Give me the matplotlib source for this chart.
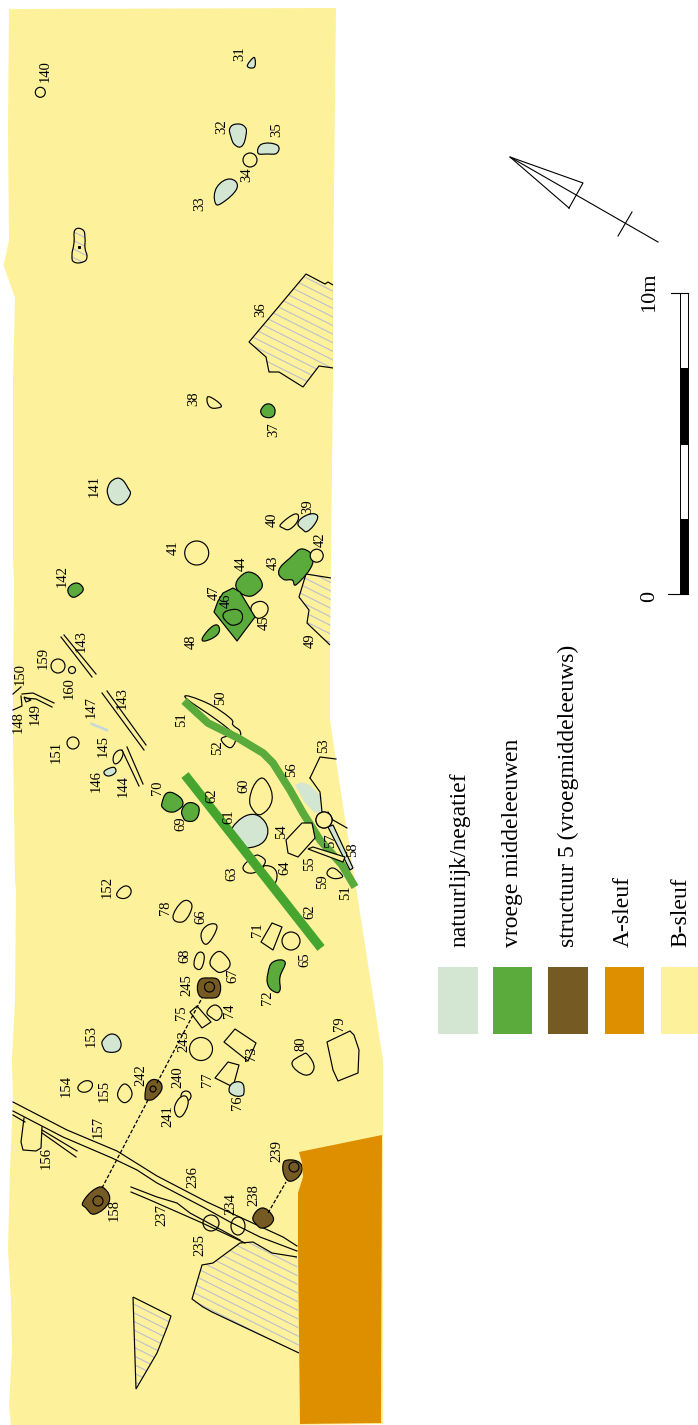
import numpy as np
import matplotlib
matplotlib.use("Agg")
import matplotlib.pyplot as plt
from matplotlib.path import Path
from matplotlib.patches import PathPatch, Polygon, Ellipse, Rectangle

plt.rcParams['font.family'] = ['Liberation Serif', 'DejaVu Serif']

# colours of the legend
C_NATURAL = '#D2E6D2'
C_MEDIEVAL = '#5AAB3C'
C_STRUCT = '#765A24'
C_ASLEUF = '#DE8F00'
C_BSLEUF = '#FDF29B'
C_HATCH = '#BCBED2'

legend_labels = ['natuurlijk/negatief', 'vroege middeleeuwen',
                 'structuur 5 (vroegmiddeleeuws)', 'A-sleuf', 'B-sleuf']
legend_colors = [C_NATURAL, C_MEDIEVAL, C_STRUCT, C_ASLEUF, C_BSLEUF]
legend_left = [438, 493, 548, 605, 661]
legend_right = [478, 532, 588, 644, 698]
legend_base = [465, 518, 574, 629, 686]

# trench outlines, in image pixels
b_sleuf = [(9, 9), (336, 8), (333, 285), (333, 380), (330, 647), (330, 720), (339, 780),
           (356, 887), (383, 1060), (383, 1135), (383, 1424), (300, 1425), (11, 1425),
           (9, 1405), (12, 1350), (11, 1300), (8, 1250), (10, 1170), (13, 1100), (12, 1060),
           (15, 1000), (16, 890), (15, 880), (13, 740), (13, 700), (14, 580), (13, 560),
           (13, 380), (15, 298), (3.5, 265), (7, 250), (9, 240), (8, 130)]
a_sleuf = [(299, 1152), (382, 1135), (381, 1423), (300, 1424), (298, 1247), (298, 1193),
           (303, 1177), (302, 1163)]

# pits, natural / negative
natural_pits = [
    [(248, 64), (253, 58), (255, 59), (255, 66), (252, 68), (248, 67)],
    [(230, 128), (237, 124), (245, 127), (246, 135), (242, 146), (235, 145), (231, 137)],
    [(262, 144), (277, 145), (277, 153), (267, 154), (258, 153)],
    [(217, 187), (230, 179), (237, 188), (222, 203), (215, 202)],
    [(108, 487), (113, 480), (121, 479), (128, 488), (130, 495), (122, 504), (113, 503), (108, 495)],
    [(298, 523), (305, 516), (315, 514), (317, 520), (308, 531), (302, 529)],
    [(103, 1040), (112, 1034), (120, 1040), (119, 1050), (108, 1052), (103, 1047)],
    [(229, 1090), (233, 1083), (242, 1083), (244, 1092), (241, 1096), (233, 1095)],
    [(104, 772), (110, 768), (115, 768), (115, 773), (108, 776)],
    [(230, 832), (248, 815), (265, 822), (265, 840), (247, 848), (238, 842)],
]
# pits, early medieval
medieval_pits = [
    [(262, 408), (267, 404), (273, 406), (275, 412), (272, 417), (265, 417), (261, 413)],
    [(279, 570), (290, 558), (303, 549), (313, 562), (297, 584), (292, 580), (283, 579)],
    [(236, 587), (242, 575), (253, 573), (262, 583), (258, 592), (247, 596)],
    [(203, 637), (213, 626), (219, 627), (217, 635), (205, 641)],
    [(68, 589), (76, 583), (83, 588), (80, 594), (72, 597)],
    [(162, 803), (167, 793), (177, 795), (183, 803), (178, 810), (170, 812), (163, 808)],
    [(182, 810), (188, 803), (197, 805), (199, 812), (195, 820), (187, 821), (183, 817)],
    [(268, 973), (273, 962), (285, 962), (280, 977), (280, 990), (275, 992), (268, 985)],
]
feature_47 = [(214, 612), (218, 601), (223, 593), (233, 588), (240, 592), (255, 617), (237, 641)]
feature_46 = [(223, 615), (230, 610), (240, 611), (242, 620), (235, 625), (228, 623)]

# structuur 5 posts: outline, then inner ring (x, y, r)
struct_pits = [
    [(199, 981), (209, 978), (219, 981), (219, 995), (209, 998), (199, 995)],
    [(145, 1097), (148, 1083), (157, 1080), (162, 1088), (155, 1098), (148, 1100)],
    [(83, 1202), (95, 1189), (105, 1189), (109, 1202), (95, 1214), (86, 1208)],
    [(283, 1165), (288, 1160), (300, 1163), (301, 1173), (292, 1181), (285, 1177)],
    [(253, 1217), (262, 1208), (272, 1215), (272, 1223), (263, 1228), (257, 1225)],
]
struct_rings = [(209.5, 987, 5), (153, 1089, 3), (98, 1201, 5), (294, 1167, 5)]
post_lines = [[(102, 1188), (148, 1100)], [(157, 1083), (202, 998)], [(268, 1213), (286, 1182)]]

# unfilled pits, B-sleuf colour shows through
plain_pits = [
    [(207, 400), (210, 397), (221, 405), (217, 408), (210, 407)],
    [(281, 524), (295, 514), (298, 520), (290, 529), (283, 528)],
    [(251, 608), (257, 602), (265, 603), (268, 610), (263, 617), (255, 617)],
    [(185, 697), (207, 703), (230, 718), (233, 725), (240, 731), (237, 735), (217, 720)],
    [(222, 738), (235, 737), (232, 747), (225, 745)],
    [(250, 797), (258, 780), (267, 782), (272, 800), (262, 814), (253, 810)],
    [(243, 868), (253, 857), (260, 856), (265, 863), (253, 873)],
    [(263, 868), (272, 867), (277, 875), (273, 883)],
    [(117, 893), (125, 886), (131, 890), (128, 897), (120, 898)],
    [(173, 917), (182, 902), (191, 903), (190, 913), (182, 922)],
    [(201, 935), (208, 925), (217, 927), (207, 944)],
    [(194, 963), (198, 953), (204, 955), (202, 967), (197, 969)],
    [(210, 962), (217, 952), (225, 955), (230, 965), (222, 972), (215, 970)],
    [(207, 1012), (215, 1005), (222, 1012), (218, 1020), (212, 1018)],
    [(292, 1064), (302, 1055), (308, 1055), (314, 1068), (305, 1075)],
    [(78, 1087), (85, 1081), (92, 1083), (90, 1090), (82, 1092)],
    [(118, 1092), (125, 1084), (132, 1093), (127, 1102), (120, 1100)],
    [(327, 873), (333, 868), (342, 875), (340, 878), (332, 878)],
    [(114, 755), (120, 750), (123, 754), (119, 762), (114, 763)],
]
# straighter sided ones, corners only lightly rounded
sharp_pits = [
    [(261, 942), (272, 923), (282, 927), (273, 950)],
    [(190, 1012), (197, 1006), (211, 1022), (202, 1028)],
    [(215, 1078), (228, 1062), (239, 1065), (233, 1087)],
    [(224, 1042), (235, 1029), (256, 1043), (248, 1061)],
    [(327, 1042), (350, 1031), (354, 1035), (359, 1050), (358, 1073), (338, 1081), (333, 1070)],
]
feature_54 = [(286, 840), (302, 823), (312, 823), (315, 838), (298, 857), (288, 853)]
feature_241 = [(176, 1103), (183, 1096), (188, 1100), (186, 1110), (180, 1117), (175, 1112)]
# round pits as x, y, radius
round_pits = [(40.3, 92.3, 5), (250, 160, 7), (316.7, 555.7, 6.5), (196.7, 553, 12),
              (58, 666, 7), (72, 670, 3.5), (73, 743, 6), (291, 941, 9), (201, 1049, 11.5),
              (186, 1096, 5), (324, 820, 8)]
# these two have the ditch lines running through them
open_pits = [(238, 1226, 7, 9), (211, 1223, 8, 8)]

# hatched features, right edges stop on the trench border
hatch_36 = [(306, 274), (325, 284), (328, 282), (333, 285), (333, 368), (319, 366), (303, 387),
            (279, 372), (269, 372), (266, 357), (249, 342)]
hatch_49 = [(306, 574), (331, 578), (330, 645), (307, 623), (309, 610), (299, 597)]
hatch_big = [(297, 1257), (272, 1253), (253, 1242), (240, 1243), (213, 1263), (202, 1265),
             (192, 1299), (203, 1307), (212, 1312), (299, 1353)]
hatch_tri = [(133, 1297), (171, 1316), (168, 1325), (157, 1353), (136, 1389)]
hatch_small = [(75, 230), (83, 230), (85, 238), (85, 248), (87, 257), (83, 262), (74, 262),
               (72, 255), (74, 243)]

# green ditches
ditch_51 = [(184, 701), (208, 723), (238, 738), (263, 753), (273, 763), (290, 790),
            (303, 813), (320, 840), (342, 865), (355, 887)]
ditch_62 = [(185, 775), (321, 948)]

# thin ditches, drawn as single lines
thin_lines = [
    [(61, 637), (92, 677)], [(64, 635), (96, 674)],
    [(102, 693), (144, 750)], [(107, 691), (146, 745)],
    [(122, 750), (139, 786)], [(127, 747), (143, 784)],
    [(13, 694), (21, 687)],
    [(22, 694), (33, 693), (54, 703)], [(25, 698), (36, 699), (52, 707)],
    [(21, 696), (22, 706), (13, 710)],
    [(310, 778), (320, 757), (336, 759)],
    [(310, 778), (320, 792), (322, 812)], [(328, 812), (333, 820), (347, 828)],
    [(13, 1102), (67, 1130), (117, 1151), (157, 1176), (207, 1202), (283, 1237), (297, 1246)],
    [(13, 1111), (63, 1137), (112, 1158), (137, 1170), (157, 1183), (203, 1207), (230, 1222),
     (260, 1237), (297, 1251)],
    [(42, 1130), (77, 1151)], [(42, 1133), (76, 1157)], [(13, 1115), (25, 1122)],
    [(131, 1187), (157, 1197), (177, 1203), (190, 1213), (203, 1220), (240, 1240)],
    [(131, 1192), (150, 1200), (200, 1222), (245, 1243)],
    [(24, 1118), (21, 1142), (23, 1150), (36, 1151), (41, 1148), (42, 1127)],
]
stripe_147 = [(90, 722), (91, 725), (108, 732), (108, 729)]
stripe_58 = [(328, 827), (333, 825), (353, 868), (350, 870)]
wedge_55 = [(308, 849), (313, 847), (345, 857), (343, 862)]
blue_56 = [(295, 785), (302, 782), (310, 785), (322, 797), (320, 805), (322, 812), (315, 813), (305, 803)]
triangle_149 = [(24, 697), (31, 700), (26, 702)]

# feature numbers
label_text = ['31', '140', '32', '35', '34', '33', '36', '38', '37', '141', '39', '40', '41', '42',
              '43', '44', '47', '46', '45', '48', '49', '142', '143', '159', '150', '160', '148',
              '149', '147', '143', '50', '51', '52', '53', '151', '145', '146', '144', '56', '70',
              '62', '60', '61', '69', '54', '57', '58', '55', '59', '51', '64', '63', '152', '78',
              '66', '62', '71', '65', '68', '245', '67', '72', '75', '74', '243', '73', '80', '79',
              '153', '242', '240', '77', '154', '155', '241', '76', '157', '156', '239', '236',
              '234', '238', '158', '237', '235']
label_x = [240, 45, 222, 277, 247, 200, 261, 194, 274, 94, 308, 272, 173, 320, 273, 241, 214, 226,
           264, 191, 310, 62, 81, 43, 20, 69, 18, 35, 91, 122, 221, 182, 218, 324, 56, 103, 96,
           123, 292, 158, 212, 244, 229, 181, 282, 331, 353, 310, 323, 346, 285, 232, 107, 166,
           201, 310, 257, 305, 185, 187, 233, 267, 182, 230, 184, 252, 301, 340, 91, 141, 178,
           208, 66, 104, 168, 237, 98, 46, 277, 193, 231, 254, 114, 162, 200]
label_y = [54, 71, 127, 130, 175, 204, 310, 399, 430, 486, 507, 520, 548, 540, 563, 564, 593, 601,
           623, 642, 641, 576, 641, 658, 674, 688, 722, 714, 707, 698, 698, 720, 748, 746, 752,
           746, 781, 786, 770, 788, 796, 786, 817, 824, 832, 841, 850, 864, 882, 893, 868, 874,
           887, 908, 917, 912, 930, 960, 956, 985, 976, 998, 1013, 1011, 1041, 1054, 1044, 1024,
           1036, 1075, 1077, 1080, 1086, 1091, 1116, 1103, 1127, 1158, 1151, 1177, 1204, 1195,
           1210, 1215, 1245]

# scale bar
scale_edges = [293, 368, 444, 519, 594]
scale_colors = ['white', 'black', 'white', 'black']


def smooth_path(pts):
    # closed bezier curve through the given points, a bit fuller than catmull-rom
    pts = np.array(pts, dtype=float)
    n = len(pts)
    verts = [pts[0]]
    codes = [Path.MOVETO]
    for i in range(n):
        p0, p1, p2, p3 = pts[i - 1], pts[i], pts[(i + 1) % n], pts[(i + 2) % n]
        verts += [p1 + (p2 - p0) / 4.5, p2 - (p3 - p1) / 4.5, p2]
        codes += [Path.CURVE4, Path.CURVE4, Path.CURVE4]
    return Path(verts, codes)


def draw_pit(ax, pts, fill, z=3, edge='black'):
    ax.add_patch(PathPatch(smooth_path(pts), facecolor=fill, edgecolor=edge, lw=0.85, zorder=z))


def draw_hatched(ax, pts, smooth=False, closed=True):
    if smooth:
        path = smooth_path(pts)
    else:
        path = Path(list(pts) + ([pts[0]] if closed else []))
    clip = PathPatch(path, facecolor='none', edgecolor='none', transform=ax.transData)
    ax.add_patch(clip)
    xs = [p[0] for p in pts]
    ys = [p[1] for p in pts]
    slope = 0.5
    for c in np.arange(min(ys) - slope * max(xs), max(ys) - slope * min(xs), 8.6):
        ln, = ax.plot([min(xs), max(xs)], [c + slope * min(xs), c + slope * max(xs)],
                      color=C_HATCH, lw=0.8, zorder=2)
        ln.set_clip_path(clip)
    ax.add_patch(PathPatch(path, facecolor='none', edgecolor='black', lw=0.85, zorder=3))


fig = plt.figure(figsize=(6.98, 14.25), dpi=100)
ax = fig.add_axes([0, 0, 1, 1])
ax.set_xlim(0, 698)
ax.set_ylim(1425, 0)
ax.axis('off')

ax.add_patch(Polygon(b_sleuf, closed=True, facecolor=C_BSLEUF, edgecolor='none', zorder=1))

# hatching first, the pits and ditches sit on it
draw_hatched(ax, hatch_36[4:] + hatch_36[:4], closed=False)
draw_hatched(ax, hatch_49[2:] + hatch_49[:2], closed=False)
draw_hatched(ax, hatch_big, closed=False)
draw_hatched(ax, hatch_tri)
draw_hatched(ax, hatch_small, smooth=True)
ax.plot([78.5], [247], marker='s', ms=1.2, color='black', zorder=4)

for line in thin_lines:
    xs, ys = zip(*line)
    ax.plot(xs, ys, color='black', lw=0.85, zorder=3)

for pit in plain_pits:
    draw_pit(ax, pit, C_BSLEUF)
for pit in sharp_pits:
    ax.add_patch(Polygon(pit, closed=True, facecolor=C_BSLEUF, edgecolor='black', lw=0.85, zorder=3,
                         joinstyle='round'))
for pit in natural_pits:
    draw_pit(ax, pit, C_NATURAL)
for pit in medieval_pits:
    draw_pit(ax, pit, C_MEDIEVAL)
for pit in struct_pits:
    draw_pit(ax, pit, C_STRUCT)
for x, y, r in round_pits:
    ax.add_patch(Ellipse((x, y), 2 * r, 2 * r, facecolor=C_BSLEUF, edgecolor='black', lw=0.85, zorder=3))
draw_pit(ax, feature_241, C_BSLEUF, z=3.1)
for x, y, rx, ry in open_pits:
    ax.add_patch(Ellipse((x, y), 2 * rx, 2 * ry, facecolor='none', edgecolor='black', lw=0.85, zorder=3))
for x, y, r in struct_rings:
    ax.add_patch(Ellipse((x, y), 2 * r, 2 * r, facecolor='none', edgecolor='black', lw=0.85, zorder=5))
for line in post_lines:
    xs, ys = zip(*line)
    ax.plot(xs, ys, color='black', lw=0.9, ls=(0, (3, 1.5)), zorder=4)

# feature 47 with 46 inside it
ax.add_patch(Polygon(feature_47, closed=True, facecolor=C_MEDIEVAL, edgecolor='black', lw=0.85, zorder=3,
                     joinstyle='round'))
draw_pit(ax, feature_46, 'none', z=4)

# green ditches
xs, ys = zip(*ditch_51)
ax.plot(xs, ys, color=C_MEDIEVAL, lw=5.6, solid_capstyle='butt', zorder=3.2)
xs, ys = zip(*ditch_62)
ax.plot(xs, ys, color='#45A52F', lw=6.6, solid_capstyle='butt', zorder=3.4)

ax.add_patch(Polygon(blue_56, closed=True, facecolor=C_NATURAL, edgecolor='none', zorder=2.8))
ax.add_patch(Polygon(stripe_147, closed=True, facecolor='#C5D8DA', edgecolor='none', zorder=3))
ax.add_patch(Polygon(stripe_58, closed=True, facecolor=C_NATURAL, edgecolor='black', lw=0.85, zorder=3.5))
ax.add_patch(Polygon(wedge_55, closed=True, facecolor=C_BSLEUF, edgecolor='black', lw=0.85, zorder=3.6))
ax.add_patch(Polygon(triangle_149, closed=True, facecolor=C_BSLEUF, edgecolor='black', lw=0.85, zorder=3))
ax.add_patch(Polygon(feature_54, closed=True, facecolor=C_BSLEUF, edgecolor='black', lw=0.85, zorder=3.7,
                     joinstyle='round'))
ax.add_patch(Ellipse((324, 820), 16, 16, facecolor=C_BSLEUF, edgecolor='black', lw=0.85, zorder=3.8))

ax.add_patch(Polygon(a_sleuf, closed=True, facecolor=C_ASLEUF, edgecolor='none', zorder=6))

for t, x, y in zip(label_text, label_x, label_y):
    ax.text(x, y, t, rotation=90, ha='center', va='center', fontsize=10.5, color='black', zorder=8)

# north arrow
ax.plot([510, 658], [157, 242], color='black', lw=0.8)
ax.plot([569, 510, 583, 569], [208, 157, 183, 208], color='black', lw=0.8)
ax.plot([632, 618], [212, 236], color='black', lw=0.8)

# scale bar
for i in range(4):
    ax.add_patch(Rectangle((679.5, scale_edges[i]), 8.5, scale_edges[i + 1] - scale_edges[i],
                           facecolor=scale_colors[i], edgecolor='black', lw=0.7))
ax.plot([671, 688], [293, 293], color='black', lw=0.8)
ax.plot([668, 688], [594, 594], color='black', lw=0.8)
ax.text(654, 292, '10m', rotation=90, rotation_mode='anchor', ha='center', va='baseline', fontsize=16)
ax.text(654, 596, '0', rotation=90, rotation_mode='anchor', ha='center', va='baseline', fontsize=16)

# legend
for lab, col, x0, x1, xb in zip(legend_labels, legend_colors, legend_left, legend_right, legend_base):
    ax.add_patch(Rectangle((x0, 967), x1 - x0, 67, facecolor=col, edgecolor='none'))
    ax.text(xb, 947, lab, rotation=90, rotation_mode='anchor', ha='left', va='baseline', fontsize=17)

fig.savefig('out.png', dpi=100)
